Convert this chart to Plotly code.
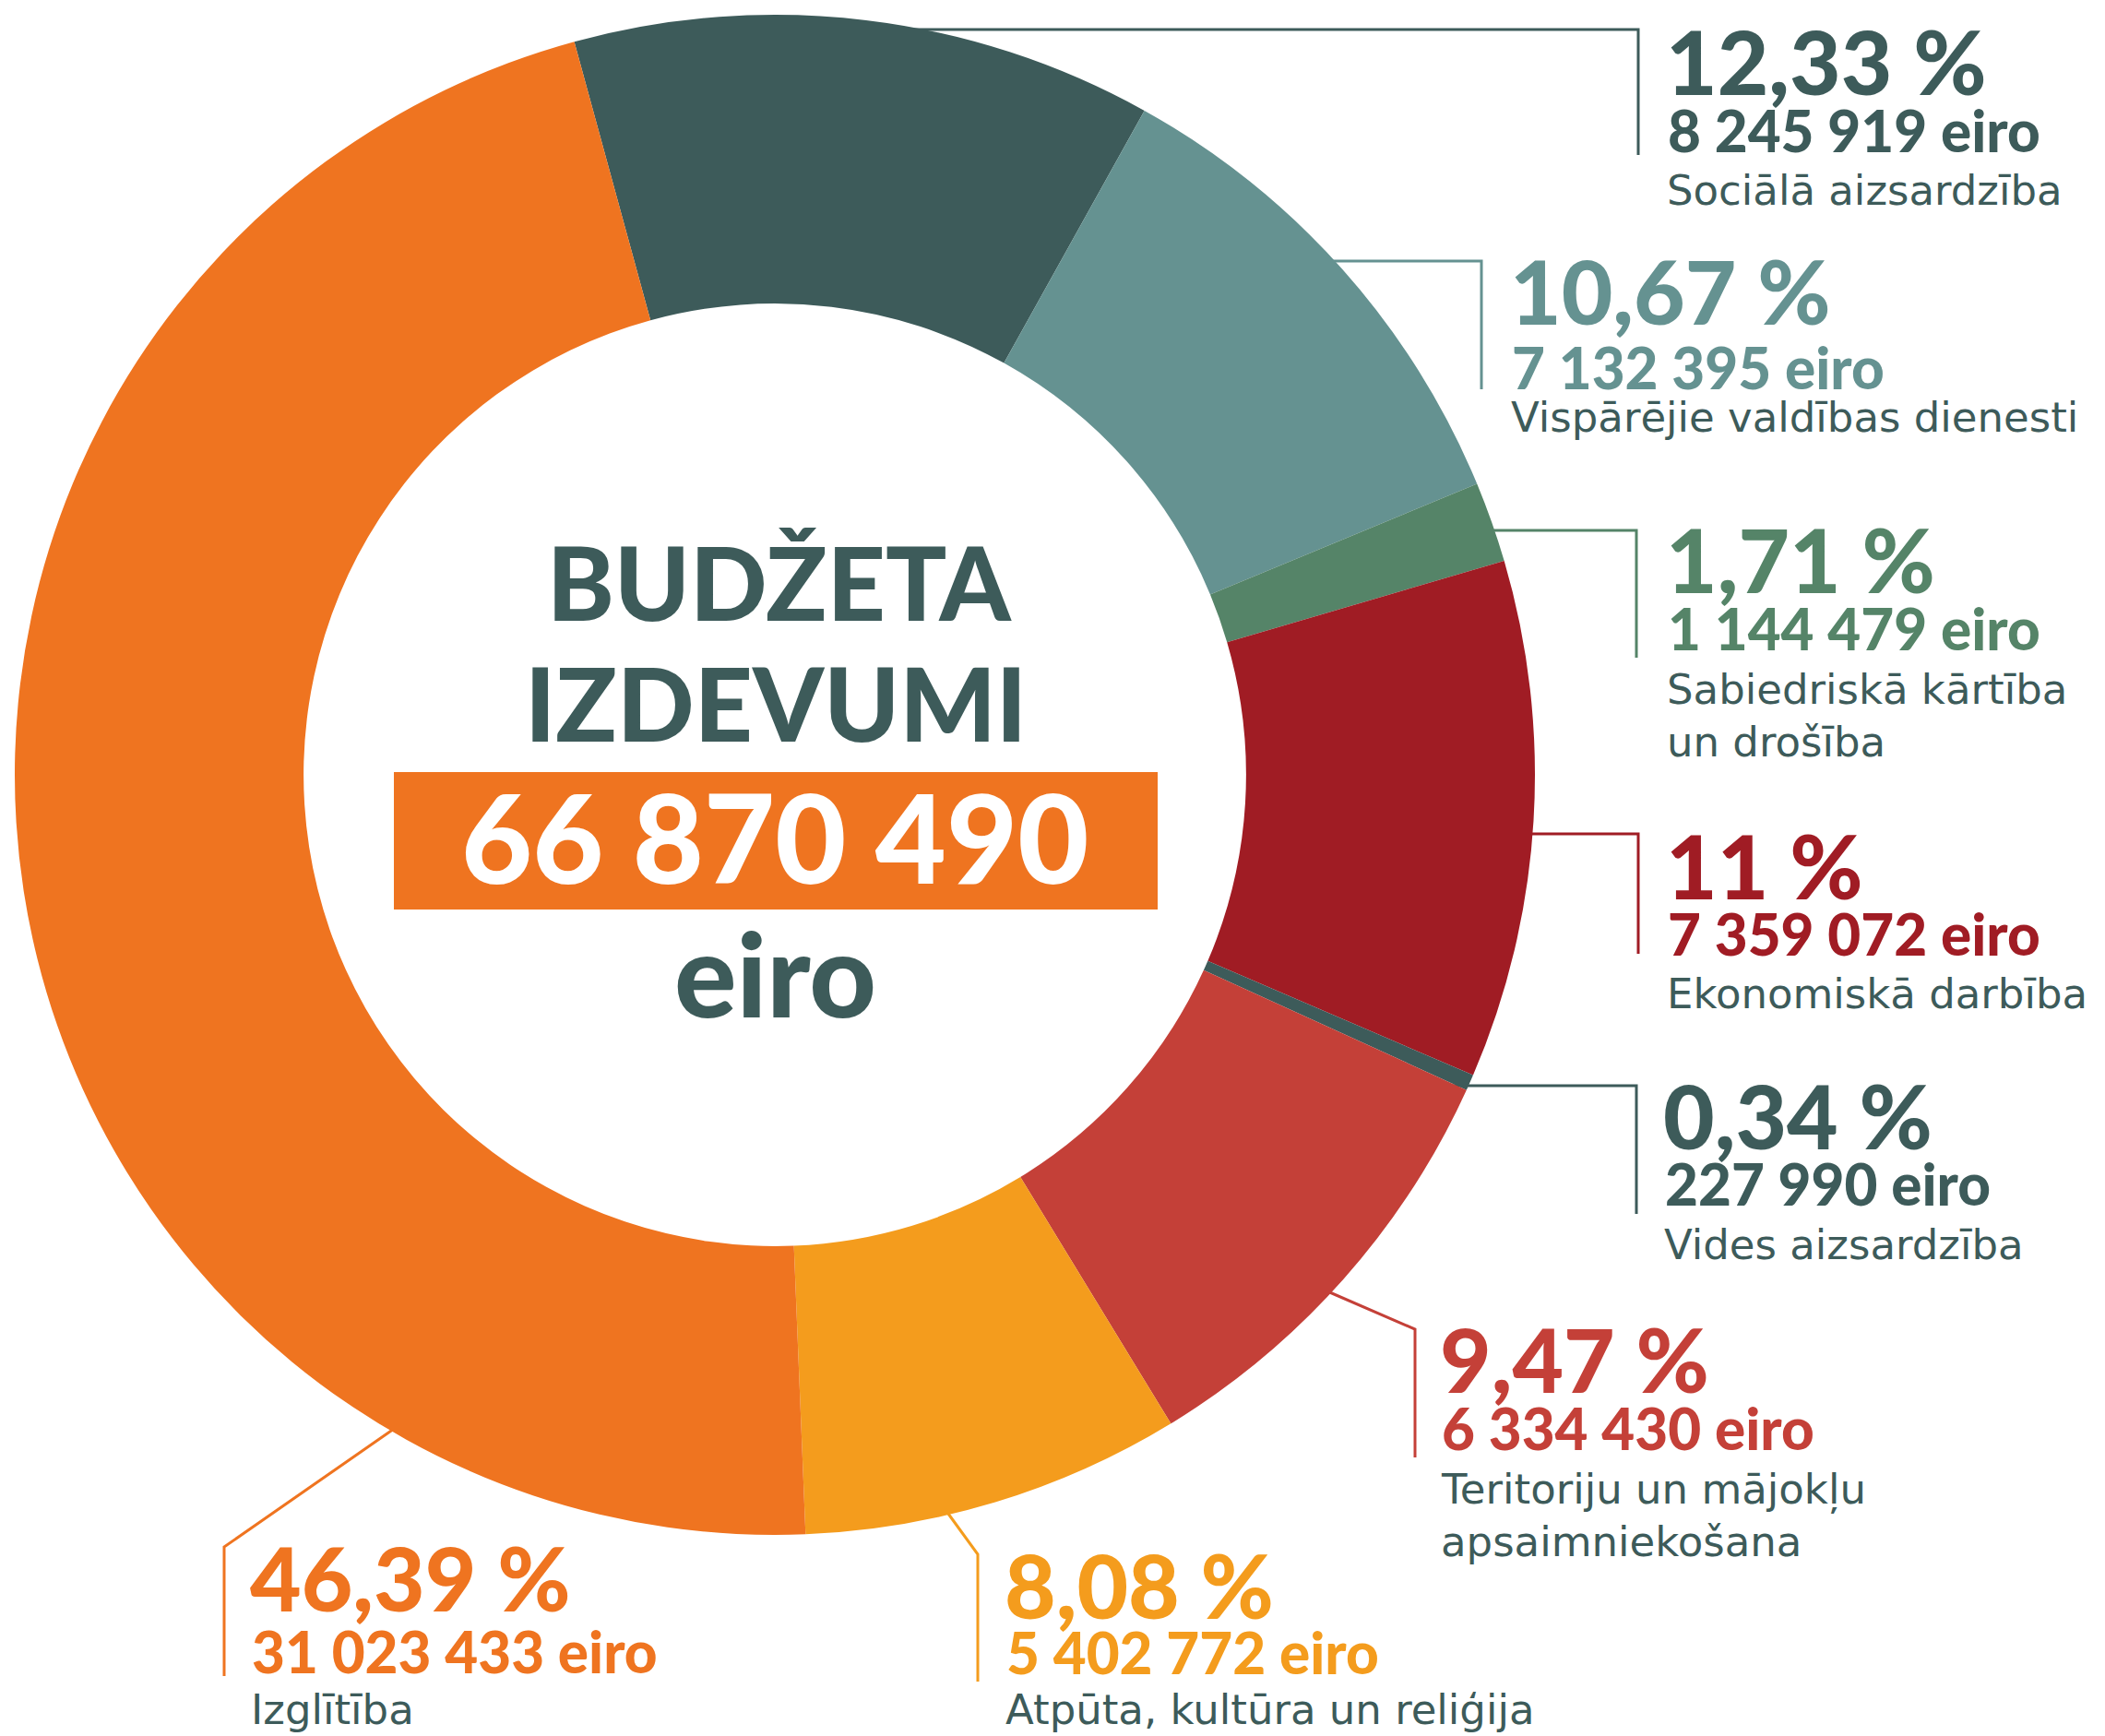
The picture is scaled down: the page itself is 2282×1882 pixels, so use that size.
import plotly.graph_objects as go

W, H = 2282, 1882

# ---- data ----
categories = [
    "Sociālā aizsardzība",
    "Vispārējie valdības dienesti",
    "Sabiedriskā kārtība<br>un drošība",
    "Ekonomiskā darbība",
    "Vides aizsardzība",
    "Teritoriju un mājokļu<br>apsaimniekošana",
    "Atpūta, kultūra un reliģija",
    "Izglītība",
]
amounts = [8245919, 7132395, 1144479, 7359072, 227990, 6334430, 5402772, 31023433]
percent_labels = ["12,33 %", "10,67 %", "1,71 %", "11 %", "0,34 %", "9,47 %", "8,08 %", "46,39 %"]
amount_labels = ["8 245 919 eiro", "7 132 395 eiro", "1 144 479 eiro", "7 359 072 eiro",
                 "227 990 eiro", "6 334 430 eiro", "5 402 772 eiro", "31 023 433 eiro"]
total_label = "66 870 490"
center_title = ["BUDŽETA", "IZDEVUMI"]
currency = "eiro"
colors = ["#3D5B5A", "#659291", "#558468", "#A01C24", "#3D5B5A", "#C44038", "#F49C1D", "#EF7420"]
LABEL_COLOR = "#3D5B5A"

# ---- layout geometry (pixels) ----
CX, CY, R = 840, 840, 824


def px(x):
    return x / W


def py(y):
    return 1 - y / H


fig = go.Figure()
fig.add_trace(go.Pie(
    values=amounts,
    labels=[c.replace("<br>", " ") for c in categories],
    sort=False,
    direction="clockwise",
    rotation=-15.3,
    hole=0.62,
    textinfo="none",
    hoverinfo="label+value+percent",
    marker=dict(colors=colors, line=dict(width=0)),
    domain=dict(x=[px(CX - R), px(CX + R)], y=[py(CY + R), py(CY - R)]),
    showlegend=False,
))

# label blocks: text-left x, baseline of percent, amount, label lines
blocks = [
    (1809, 103, 165, [222]),
    (1640, 352, 422, [468]),
    (1809, 643, 705, [763, 820]),
    (1809, 975, 1036, [1093]),
    (1806, 1246, 1307, [1365]),
    (1564, 1510, 1572, [1630, 1687]),
    (1092, 1755, 1815, [1869]),
    (274, 1747, 1814, [1869]),
]
leaders = [
    [(991, 32), (1776, 32), (1776, 168)],
    [(1440, 283), (1606, 283), (1606, 422)],
    [(1600, 575), (1774, 575), (1774, 713)],
    [(1640, 904), (1776, 904), (1776, 1034)],
    [(1570, 1177), (1774, 1177), (1774, 1316)],
    [(1430, 1396), (1534, 1441), (1534, 1580)],
    [(1020, 1630), (1060, 1685), (1060, 1823)],
    [(440, 1540), (243, 1677), (243, 1817)],
]

LATO_K = 0.387
DEJA_K = 0.346
annotations = []
shapes = []


def text(x, baseline, s, size, color, family="Lato", weight=400, k=LATO_K, anchor="left"):
    annotations.append(dict(
        x=px(x), y=py(baseline - k * size), xref="paper", yref="paper",
        text=s, showarrow=False, xanchor=anchor, yanchor="middle",
        font=dict(family=family, size=size, color=color, weight=weight),
        borderpad=0,
    ))


for i, cat in enumerate(categories):
    x, pb, ab, lbs = blocks[i]
    text(x - 4, pb, percent_labels[i], 96, colors[i], weight=900)
    text(x - 2, ab, amount_labels[i], 62, colors[i], weight=900)
    for line, lb in zip(cat.split("<br>"), lbs):
        text(x - 3, lb, line, 45, LABEL_COLOR, family="DejaVu Sans", weight=400, k=DEJA_K)
    pts = leaders[i]
    path = "M " + " L ".join(f"{px(a)},{py(b)}" for a, b in pts)
    shapes.append(dict(type="path", path=path, xref="paper", yref="paper",
                       line=dict(color=colors[i], width=3), layer="below"))

# centre text
shapes.append(dict(type="rect", xref="paper", yref="paper",
                   x0=px(427), x1=px(1255), y0=py(986), y1=py(837),
                   fillcolor="#EF7420", line=dict(width=0), layer="above"))
text(845, 673, center_title[0], 110, "#3D5B5A", weight=900, anchor="center")
text(841, 804, center_title[1], 110, "#3D5B5A", weight=900, anchor="center")
text(840, 958, total_label, 133, "white", weight=900, anchor="center")
text(840, 1103, currency, 126, "#3D5B5A", weight=900, anchor="center")

fig.update_layout(
    width=W, height=H,
    margin=dict(l=0, r=0, t=0, b=0),
    paper_bgcolor="white", plot_bgcolor="white",
    annotations=annotations, shapes=shapes,
)

fig.write_html("out.html", config={"displayModeBar": False},
               post_script="document.body.style.margin='0';")
